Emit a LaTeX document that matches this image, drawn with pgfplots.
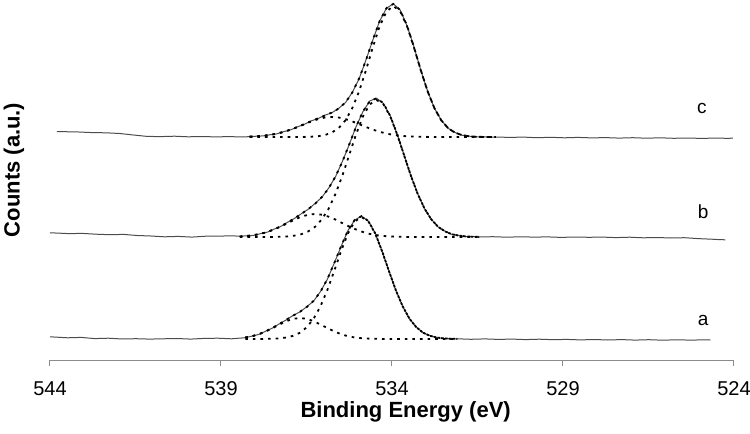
\documentclass[border=0pt]{standalone}
\usepackage{fontspec}
\setmainfont{Liberation Sans}
\usepackage{pgfplots}
\usepackage{pgfplotstable}
\pgfplotsset{compat=1.18}

\pgfplotstableread{
x y
544.00 25.1
543.89 25.0
543.49 24.2
543.09 24.6
542.69 23.4
542.29 23.8
541.89 23.0
541.49 23.3
541.09 22.9
540.69 23.2
540.29 23.5
539.89 22.9
539.49 23.6
539.09 23.8
538.69 23.2
538.29 24.3
538.09 25.9
537.89 27.6
537.69 30.9
537.49 34.0
537.29 38.3
537.09 42.1
536.89 46.6
536.69 50.1
536.49 55.3
536.29 61.0
536.09 70.5
535.89 82.7
535.69 98.8
535.49 115.4
535.29 131.4
535.09 141.9
534.89 146.0
534.69 140.8
534.49 128.8
534.29 110.7
534.09 91.2
533.89 71.8
533.69 56.0
533.49 43.2
533.29 35.0
533.09 29.1
532.89 26.4
532.69 24.3
532.49 23.7
532.29 23.1
532.09 23.2
531.69 22.7
531.29 23.1
530.89 22.6
530.49 22.9
530.09 22.4
529.69 22.8
529.29 22.3
528.89 22.6
528.49 22.1
528.09 22.5
527.69 22.0
527.29 22.4
526.89 21.9
526.49 22.3
526.09 21.8
525.69 22.2
525.29 21.9
524.89 22.1
524.69 22.0
}\dataA

\pgfplotstableread{
x m s e
538.29 23.0 24.5 24.5
538.09 23.0 25.8 25.8
537.89 23.0 27.8 27.8
537.69 23.1 30.6 30.7
537.49 23.3 33.9 34.2
537.29 23.6 37.5 38.1
537.09 24.5 40.8 42.3
536.89 26.2 43.2 46.4
536.69 29.3 44.0 50.3
536.49 34.8 43.2 55.0
536.29 43.4 40.8 61.2
536.09 55.8 37.5 70.3
535.89 72.0 33.9 82.9
535.69 91.0 30.6 98.6
535.49 110.8 27.8 115.6
535.29 128.4 25.8 131.2
535.09 140.6 24.5 142.1
534.89 145.0 23.8 145.8
534.69 140.6 23.4 141.0
534.49 128.4 23.2 128.6
534.29 110.8 23.1 110.9
534.09 91.0 23.0 91.0
533.89 72.0 23.0 72.0
533.69 55.8 23.0 55.8
533.49 43.4 23.0 43.4
533.29 34.8 23.0 34.8
533.09 29.3 23.0 29.3
532.89 26.2 23.0 26.2
532.69 24.5 23.0 24.5
532.49 23.6 23.0 23.6
532.29 23.3 23.0 23.3
532.09 23.1 23.0 23.1
}\fitA

\pgfplotstableread{
x y
544.00 129.2
543.85 129.0
543.45 128.4
543.05 128.6
542.65 127.8
542.25 127.3
541.85 127.6
541.45 126.5
541.05 126.0
540.65 125.2
540.25 125.6
539.85 124.9
539.45 125.8
539.05 125.9
538.65 126.2
538.45 125.7
538.25 126.2
538.05 126.6
537.85 128.3
537.65 129.8
537.45 132.8
537.25 135.6
537.05 139.8
536.85 143.6
536.65 148.3
536.45 152.7
536.25 158.5
536.05 164.7
535.85 174.0
535.65 185.4
535.45 200.6
535.25 217.4
535.05 235.4
534.85 250.3
534.65 261.0
534.45 263.8
534.25 258.5
534.05 246.2
533.85 227.8
533.65 207.4
533.45 186.3
533.25 168.4
533.05 153.3
532.85 142.8
532.65 135.0
532.45 130.8
532.25 127.6
532.05 126.6
531.85 125.4
531.65 125.5
531.45 125.0
531.05 125.3
530.65 124.8
530.25 125.2
529.85 124.9
529.45 125.1
529.05 124.6
528.65 125.0
528.25 124.7
527.85 124.9
527.45 124.4
527.05 124.8
526.65 124.2
526.25 124.5
525.85 124.0
525.45 124.3
525.05 123.4
524.65 122.8
524.45 122.4
524.25 122.2
}\dataB

\pgfplotstableread{
x m s e
538.45 125.0 125.5 125.5
538.25 125.0 126.0 126.0
538.05 125.0 126.8 126.8
537.85 125.0 128.1 128.1
537.65 125.0 130.0 130.0
537.45 125.1 132.5 132.6
537.25 125.3 135.5 135.8
537.05 125.6 138.9 139.5
536.85 126.4 142.4 143.8
536.65 127.8 145.3 148.1
536.45 130.6 147.3 152.9
536.25 135.2 148.0 158.2
536.05 142.6 147.3 164.9
535.85 153.5 145.3 173.8
535.65 168.2 142.4 185.6
535.45 186.5 138.9 200.4
535.25 207.1 135.5 217.6
535.05 227.7 132.5 235.2
534.85 245.5 130.0 250.5
534.65 257.7 128.1 260.8
534.45 262.0 126.8 263.8
534.25 257.7 126.0 258.7
534.05 245.5 125.5 246.0
533.85 227.7 125.3 228.0
533.65 207.1 125.1 207.2
533.45 186.5 125.0 186.5
533.25 168.2 125.0 168.2
533.05 153.5 125.0 153.5
532.85 142.6 125.0 142.6
532.65 135.2 125.0 135.2
532.45 130.6 125.0 130.6
532.25 127.8 125.0 127.8
532.05 126.4 125.0 126.4
531.85 125.6 125.0 125.6
531.65 125.3 125.0 125.3
531.45 125.1 125.0 125.1
}\fitB

\pgfplotstableread{
x y
543.80 230.4
543.56 230.3
543.16 230.0
542.76 229.4
542.36 229.2
541.96 228.5
541.56 227.0
541.16 225.6
540.76 225.4
540.36 225.8
539.96 225.2
539.56 225.5
539.16 225.1
538.76 225.4
538.36 225.0
538.16 225.4
537.96 225.8
537.76 226.1
537.56 227.3
537.36 228.2
537.16 230.4
536.96 232.2
536.76 235.2
536.56 237.7
536.36 241.1
536.16 243.5
535.96 246.8
535.76 249.2
535.56 253.6
535.36 259.4
535.16 269.7
534.96 283.4
534.76 302.1
534.56 322.0
534.36 341.1
534.16 353.8
533.96 358.2
533.76 352.0
533.56 336.2
533.36 315.4
533.16 291.9
532.96 271.1
532.76 253.7
532.56 241.9
532.36 233.7
532.16 229.6
531.96 226.8
531.76 225.9
531.56 225.1
531.36 225.3
531.16 224.8
530.96 225.0
530.56 224.6
530.16 224.9
529.76 224.3
529.36 224.7
528.96 224.2
528.56 224.6
528.16 224.1
527.76 224.4
527.36 223.9
526.96 224.3
526.56 223.8
526.16 224.2
525.76 223.7
525.36 224.0
524.96 223.6
524.56 223.9
524.20 223.7
524.03 223.8
}\dataC

\pgfplotstableread{
x m s e
538.16 225.0 225.4 225.4
537.96 225.0 225.7 225.7
537.76 225.0 226.3 226.3
537.56 225.0 227.1 227.1
537.36 225.0 228.4 228.4
537.16 225.0 230.2 230.2
536.96 225.0 232.4 232.4
536.76 225.0 235.0 235.0
536.56 225.1 237.8 237.9
536.36 225.3 240.6 240.9
536.16 225.8 242.9 243.7
535.96 227.0 244.5 246.5
535.76 229.4 245.0 249.4
535.56 233.9 244.5 253.4
535.36 241.7 242.9 259.6
535.16 253.9 240.6 269.5
534.96 270.8 237.8 283.6
534.76 291.9 235.0 301.9
534.56 314.8 232.4 322.2
534.36 335.7 230.2 340.9
534.16 350.6 228.4 354.0
533.96 356.0 227.1 358.1
533.76 350.6 226.3 351.9
533.56 335.7 225.7 336.4
533.36 314.8 225.4 315.2
533.16 291.9 225.2 292.1
532.96 270.8 225.1 270.9
532.76 253.9 225.0 253.9
532.56 241.7 225.0 241.7
532.36 233.9 225.0 233.9
532.16 229.4 225.0 229.4
531.96 227.0 225.0 227.0
531.76 225.8 225.0 225.8
531.56 225.3 225.0 225.3
531.36 225.1 225.0 225.1
531.16 225.0 225.0 225.0
530.96 225.0 225.0 225.0
}\fitC

\begin{document}
\begin{tikzpicture}
\begin{axis}[
  at={(0,0)}, anchor=south west,
  scale only axis, width=342bp, height=180bp,
  xmin=524, xmax=544, ymin=2, ymax=362, x dir=reverse,
  clip=false,
  axis x line*=bottom, axis y line*=left,
  y axis line style={draw=none},
  x axis line style={-, draw=black!45, line width=0.5bp},
  ytick=\empty,
  xtick={524,529,534,539,544},
  tick align=outside, major tick length=3.2bp,
  xtick style={draw=black!45, line width=0.5bp},
  /pgf/number format/assume math mode=true,
  xticklabel style={font=\fontsize{10bp}{12bp}\selectfont, anchor=center, yshift=-11bp},
  xlabel={Binding Energy (eV)},
  ylabel={Counts (a.u.)},
  xlabel style={at={(axis description cs:0.52,-0.1444)}, anchor=center, font=\bfseries\fontsize{11bp}{13bp}\selectfont},
  ylabel style={at={(axis description cs:-0.0526,0.528)}, anchor=center, rotate=0, font=\bfseries\fontsize{11bp}{13bp}\selectfont},
  datastyle/.style={black!70, line width=0.5bp},
  fitstyle/.style={black, line width=0.9bp, dash pattern=on 1.3bp off 2.5bp},
]
\addplot[datastyle] table[x=x,y=y] {\dataA};
\addplot[datastyle] table[x=x,y=y] {\dataB};
\addplot[datastyle] table[x=x,y=y] {\dataC};
\addplot[fitstyle] table[x=x,y=m] {\fitA};
\addplot[fitstyle] table[x=x,y=s] {\fitA};
\addplot[fitstyle] table[x=x,y=e] {\fitA};
\addplot[fitstyle] table[x=x,y=m] {\fitB};
\addplot[fitstyle] table[x=x,y=s] {\fitB};
\addplot[fitstyle] table[x=x,y=e] {\fitB};
\addplot[fitstyle] table[x=x,y=m] {\fitC};
\addplot[fitstyle] table[x=x,y=s] {\fitC};
\addplot[fitstyle] table[x=x,y=e] {\fitC};
\node[font=\fontsize{9.5bp}{11bp}\selectfont] at (axis cs:524.9,42) {a};
\node[font=\fontsize{9.5bp}{11bp}\selectfont] at (axis cs:524.9,150.3) {b};
\node[font=\fontsize{9.5bp}{11bp}\selectfont] at (axis cs:524.94,253.7) {c};
\end{axis}
\pgfresetboundingbox
\path[use as bounding box] (-25bp,-37bp) rectangle (350bp,180bp);
\end{tikzpicture}
\end{document}
